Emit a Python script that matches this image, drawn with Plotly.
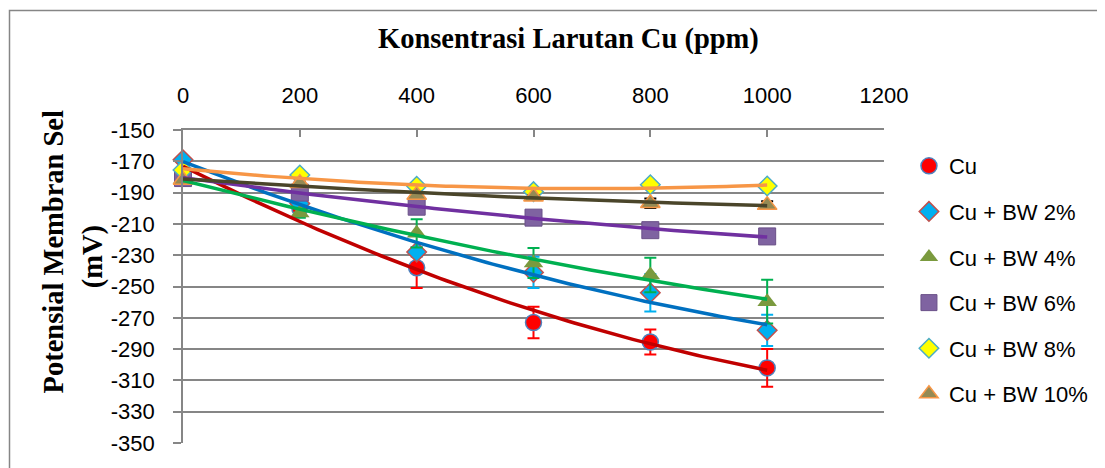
import numpy as np
import plotly.graph_objects as go

# ---- data ----
conc = [0, 200, 400, 600, 800, 1000]
series_names = ["Cu", "Cu + BW 2%", "Cu + BW 4%", "Cu + BW 6%", "Cu + BW 8%", "Cu + BW 10%"]
cu = [-178, -200, -238, -273, -285.5, -302]
cu_err = [3, 4, 13, 10, 8, 12]
bw2 = [-169, -197, -228, -241, -254, -278]
bw2_err = [2, 3, 3, 10, 12, 10]
bw4 = [-181, -203, -216, -235, -242.6, -259.7]
bw4_err = [2, 3, 9, 9.6, 11, 14]
bw6 = [-180.7, -190, -199, -206, -214, -218]
bw6_err = [1, 1, 1, 1, 1, 3]
bw8 = [-175.6, -178.8, -186, -189.4, -185, -185.8]
bw8_err = [1, 1, 1, 1, 1, 1]
bw10 = [-182, -184, -191.5, -192.7, -196.8, -198]
bw10_err = [1, 1, 1, 1, 3, 2.5]
y_ticks = [-150, -170, -190, -210, -230, -250, -270, -290, -310, -330, -350]
y_tick_labels = ["-150", "-170", "-190", "-210", "-230", "-250", "-270", "-290", "-310", "-330", "-350"]
x_ticks = [0, 200, 400, 600, 800, 1000, 1200]
x_tick_labels = ["0", "200", "400", "600", "800", "1000", "1200"]

values = [cu, bw2, bw4, bw6, bw8, bw10]
errors = [cu_err, bw2_err, bw4_err, bw6_err, bw8_err, bw10_err]

# ---- styles ----
marker_styles = [
    dict(symbol="circle", size=16, color="#FF0000", line=dict(color="#4F81BD", width=1.5)),
    dict(symbol="diamond", size=15, color="#00B0F0", line=dict(color="#C0504D", width=1.5)),
    dict(symbol="triangle-up", size=17, color="#7A9A3E", line=dict(color="#7A9A3E", width=0)),
    dict(symbol="square", size=17, color="#7F63A1", line=dict(color="#6A5088", width=1)),
    dict(symbol="diamond", size=15, color="#FFFF00", line=dict(color="#4BACC6", width=1.5)),
    dict(symbol="triangle-up", size=17, color="#948A54", line=dict(color="#F79646", width=1.5)),
]
err_colors = ["#FF0000", "#00B0F0", "#00B050", "#000000", "#000000", "#000000"]
trend_colors = ["#C00000", "#0070C0", "#00B050", "#7030A0", "#F79646", "#4A452A"]

fig = go.Figure()

# data markers with error bars
for name, v, e, ms, ec in zip(series_names, values, errors, marker_styles, err_colors):
    fig.add_trace(go.Scatter(
        x=conc, y=v, mode="markers", name=name, showlegend=False,
        marker=ms, cliponaxis=False,
        error_y=dict(type="data", array=e, visible=True, color=ec, thickness=2, width=6),
    ))

# polynomial (order 2) trendlines on top
xf = np.linspace(0, 1000, 101)
for v, tc in zip(values, trend_colors):
    coef = np.polyfit(conc, v, 2)
    fig.add_trace(go.Scatter(
        x=xf, y=np.polyval(coef, xf), mode="lines", showlegend=False,
        line=dict(color=tc, width=3.5), hoverinfo="skip", cliponaxis=False,
    ))

# legend entries
for i, (name, ms) in enumerate(zip(series_names, marker_styles)):
    fig.add_trace(go.Scatter(
        x=[None], y=[None], mode="markers", name=name, legendgroup=f"g{i}",
        marker=ms,
    ))

grid = "#868686"
title_font = dict(family="Liberation Serif", size=28.5, color="black")
# page body adds an 8px offset; figure is sized/margined to compensate
fig.update_layout(
    width=1097, height=460,
    margin=dict(l=175, r=219, t=122, b=25),
    paper_bgcolor="white", plot_bgcolor="white",
    font=dict(family="Liberation Sans", size=22, color="black"),
    xaxis=dict(
        range=[0, 1200], tickvals=x_ticks, ticktext=x_tick_labels, side="top",
        ticks="inside", ticklen=7,
        tickcolor=grid, tickwidth=1.5, showline=True, linecolor=grid, linewidth=1.5,
        showgrid=False, zeroline=False, ticklabelstandoff=16,
        tickfont=dict(family="Liberation Sans", size=22, color="black"),
    ),
    yaxis=dict(
        range=[-350, -150], tickvals=y_ticks, ticktext=y_tick_labels,
        ticks="outside", ticklen=8,
        tickcolor=grid, tickwidth=1.5, showline=True, linecolor=grid, linewidth=1.5,
        showgrid=True, gridcolor=grid, gridwidth=1.5, zeroline=False,
        ticklabelstandoff=14,
        tickfont=dict(family="Liberation Sans", size=22, color="black"),
    ),
    legend=dict(
        x=1.0356, xanchor="left", y=0.952, yanchor="top",
        font=dict(family="Liberation Sans", size=22, color="black"),
        tracegroupgap=14, bgcolor="rgba(0,0,0,0)",
    ),
    annotations=[
        dict(text="<b>Konsentrasi Larutan Cu (ppm)</b>", xref="paper", yref="paper",
             x=0.5505, y=1.2907, xanchor="center", yanchor="middle", showarrow=False,
             font=title_font),
        dict(text="<b>Potensial Membran Sel</b>", xref="paper", yref="paper",
             x=-0.1849, y=0.610, xanchor="center", yanchor="middle", showarrow=False,
             textangle=-90, font=title_font),
        dict(text="<b>(mV)</b>", xref="paper", yref="paper",
             x=-0.128, y=0.594, xanchor="center", yanchor="middle", showarrow=False,
             textangle=-90, font=title_font),
    ],
    shapes=[
        dict(type="rect", xref="paper", yref="paper", x0=-0.2475, x1=1.33, y0=-0.12, y1=1.3818,
             line=dict(color=grid, width=1.5), fillcolor="rgba(0,0,0,0)", layer="below"),
    ],
)

fig.write_html("out.html")
